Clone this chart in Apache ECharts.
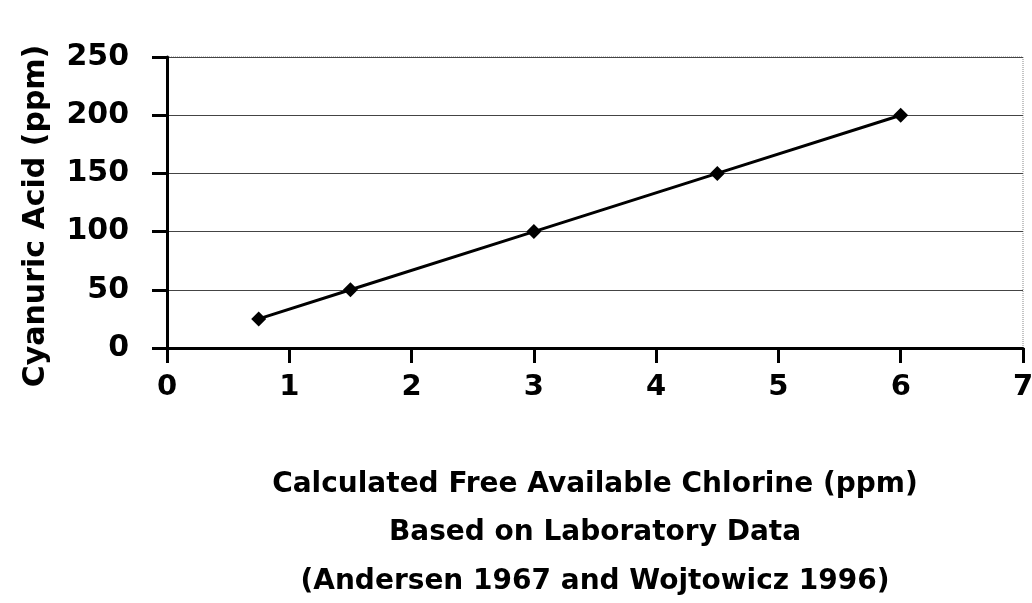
<!DOCTYPE html>
<html>
<head>
<meta charset="utf-8">
<script src="https://cdn.jsdelivr.net/npm/echarts@6/dist/echarts.min.js"></script>
<style>
  html, body { margin: 0; padding: 0; background: #fff; }
  #chart { width: 1032px; height: 603px; }
</style>
</head>
<body>
<div id="chart"></div>
<script>
// free chlorine (ppm) vs cyanuric acid (ppm)
var chlorine = [0.75, 1.5, 3, 4.5, 6];
var cyanuric = [25, 50, 100, 150, 200];
var xTitle = [
  "Calculated Free Available Chlorine (ppm)",
  "Based on Laboratory Data",
  "(Andersen 1967 and Wojtowicz 1996)"
];
var yTitle = "Cyanuric Acid (ppm)";

var chartDom = document.getElementById("chart");
var myChart = echarts.init(chartDom);
var font = "DejaVu Sans";

var points = chlorine.map(function (x, i) {
  return [x, cyanuric[i]];
});

var option = {
  animation: false,
  backgroundColor: "#fff",
  grid: {
    left: 167,
    right: 9,
    top: 57,
    bottom: 255,
    outerBoundsMode: "none",
    containLabel: false,
    show: true,
    borderColor: "#888",
    borderWidth: 1,
    borderType: "dotted",
  },
  xAxis: {
    type: "value",
    min: 0,
    max: 7,
    interval: 1,
    axisLine: { lineStyle: { color: "#000", width: 3 } },
    axisTick: { show: true, inside: false, length: 15, lineStyle: { color: "#000", width: 3 } },
    axisLabel: {
      margin: 25,
      color: "#000",
      fontFamily: font,
      fontWeight: "bold",
      fontSize: 29,
    },
    splitLine: { show: false },
    name: xTitle.join("\n"),
    nameLocation: "middle",
    nameGap: 112,
    nameTextStyle: {
      color: "#000",
      fontFamily: font,
      fontWeight: "bold",
      fontSize: 28,
      lineHeight: 48.5,
    },
  },
  yAxis: {
    type: "value",
    min: 0,
    max: 250,
    interval: 50,
    axisLine: { show: true, lineStyle: { color: "#000", width: 3 } },
    axisTick: { show: true, inside: false, length: 15, lineStyle: { color: "#000", width: 3 } },
    axisLabel: {
      margin: 38,
      color: "#000",
      fontFamily: font,
      fontWeight: "bold",
      fontSize: 30,
    },
    splitLine: { show: true, lineStyle: { color: "#444", width: 1 } },
  },
  graphic: [
    {
      type: "text",
      x: 36,
      y: 216,
      rotation: Math.PI / 2,
      style: {
        text: yTitle,
        fill: "#000",
        font: "bold 30px " + font,
        align: "center",
        verticalAlign: "middle",
      },
    },
  ],
  series: [
    {
      type: "line",
      data: points,
      symbol: "diamond",
      symbolSize: 15,
      itemStyle: { color: "#000" },
      lineStyle: { color: "#000", width: 3 },
    },
  ],
};
option && myChart.setOption(option);
</script>
</body>
</html>
